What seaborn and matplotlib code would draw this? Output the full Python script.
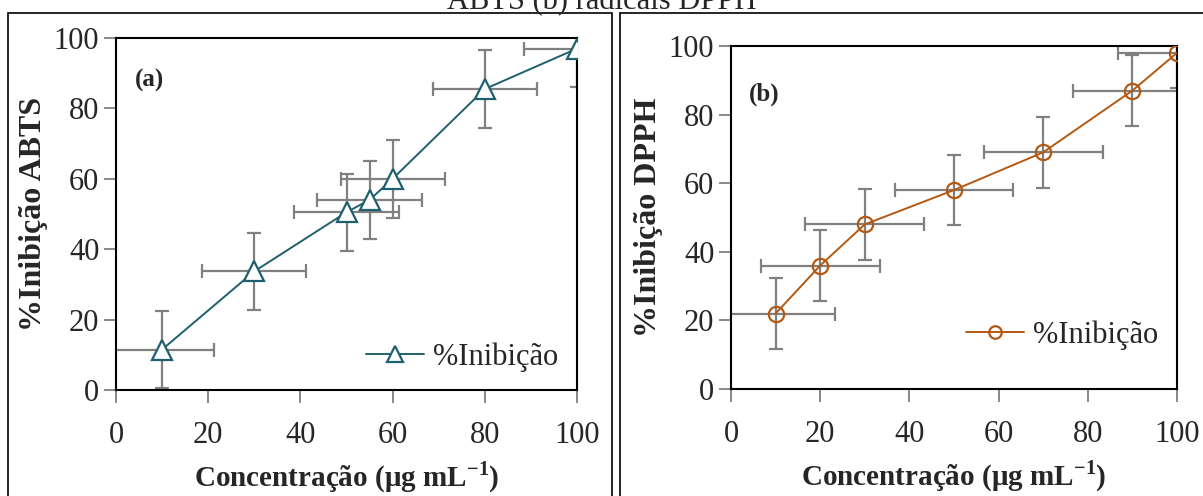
import matplotlib
matplotlib.use("Agg")
import matplotlib.pyplot as plt
import seaborn as sns
import pandas as pd
from matplotlib.patches import Rectangle
from matplotlib.lines import Line2D

# panel (a) ABTS
conc_a = [10, 30, 50, 55, 60, 80, 100]
inib_a = [11.5, 33.7, 50.5, 54.0, 60.0, 85.5, 97.0]
yerr_a = [11.0, 11.0, 11.0, 11.0, 11.0, 11.0, 11.0]
xerr_a = [11.3, 11.3, 11.3, 11.3, 11.3, 11.3, 11.5]

# panel (b) DPPH
conc_b = [10, 20, 30, 50, 70, 90, 100]
inib_b = [22.0, 36.0, 48.0, 58.0, 69.0, 87.0, 98.0]
yerr_b = [10.3, 10.3, 10.3, 10.3, 10.3, 10.3, 10.3]
xerr_b = [13.3, 13.3, 13.3, 13.3, 13.3, 13.3, 13.3]

ticks = [0, 20, 40, 60, 80, 100]
xlabel = "Concentração (μg mL$^{\\mathbf{-1}}$)"

sns.set_style("ticks")
plt.rcParams["font.family"] = ["Liberation Serif", "DejaVu Serif"]
plt.rcParams["mathtext.fontset"] = "custom"
plt.rcParams["mathtext.rm"] = "Liberation Serif"
plt.rcParams["mathtext.bf"] = "Liberation Serif:bold"

W, H = 1203, 496
fig = plt.figure(figsize=(W / 100, H / 100), dpi=100)


def fx(px):
    return px / W


def fy(py):
    return 1 - py / H


# panel frames
fig.patches.append(Rectangle((fx(8), fy(520)), fx(612 - 8), (520 - 13) / H,
                             transform=fig.transFigure, fill=False, ec="black", lw=1.2))
fig.patches.append(Rectangle((fx(620), fy(520)), fx(1250 - 620), (520 - 13) / H,
                             transform=fig.transFigure, fill=False, ec="black", lw=1.2))
fig.text(0.5, fy(9), "ABTS (b) radicais DPPH", ha="center", va="baseline",
         fontsize=22)

teal = "#1f5f6e"
brown = "#b35912"
grey = "#808080"

panels = [
    dict(rect=[fx(116), fy(390), fx(577 - 116), (390 - 38) / H], x=conc_a, y=inib_a,
         xe=xerr_a, ye=yerr_a, color=teal, marker="^", ms=14, mfc="white",
         ylabel="%Inibição ABTS", tag="(a)", tagpos=(0.04, 0.88), legpos=(1.0, 0.0)),
    dict(rect=[fx(731), fy(389), fx(1177 - 731), (389 - 46) / H], x=conc_b, y=inib_b,
         xe=xerr_b, ye=yerr_b, color=brown, marker="o", ms=11, mfc="none",
         ylabel="%Inibição DPPH", tag="(b)", tagpos=(0.04, 0.86), legpos=(1.0, 0.06)),
]

for p in panels:
    ax = fig.add_axes(p["rect"])
    df = pd.DataFrame({"conc": p["x"], "inib": p["y"]})
    ax.errorbar(p["x"], p["y"], xerr=p["xe"], yerr=p["ye"], fmt="none",
                ecolor=grey, elinewidth=1.6, capsize=5, capthick=1.6, zorder=2)
    sns.lineplot(data=df, x="conc", y="inib", ax=ax, color=p["color"], lw=1.4,
                 marker=p["marker"], markersize=p["ms"], markerfacecolor=p["mfc"],
                 markeredgecolor=p["color"], markeredgewidth=1.6, zorder=3)
    ax.set_xlim(0, 100)
    ax.set_ylim(0, 100)
    ax.set_xticks(ticks)
    ax.set_yticks(ticks)
    ax.tick_params(axis="both", direction="out", length=9, width=1.3, color=grey,
                   labelsize=22, pad=3)
    ax.tick_params(axis="x", pad=13)
    for s in ax.spines.values():
        s.set_visible(True)
        s.set_linewidth(1.5)
        s.set_color("black")
    ax.set_xlabel(xlabel, fontsize=21, fontweight="bold", labelpad=7)
    ax.set_ylabel(p["ylabel"], fontsize=23, fontweight="bold", labelpad=4)
    ax.text(p["tagpos"][0], p["tagpos"][1], p["tag"], transform=ax.transAxes,
            fontsize=18, fontweight="bold", va="center")
    handle = Line2D([], [], color=p["color"], lw=1.4, marker=p["marker"],
                    markersize=p["ms"] - 2, markerfacecolor=p["mfc"],
                    markeredgecolor=p["color"], markeredgewidth=1.6)
    ax.legend([handle], ["%Inibição"], loc="lower right",
              bbox_to_anchor=p["legpos"], frameon=False, fontsize=22,
              handlelength=1.9, handletextpad=0.3, borderaxespad=0.2)

fig.savefig("out.png", dpi=100)
